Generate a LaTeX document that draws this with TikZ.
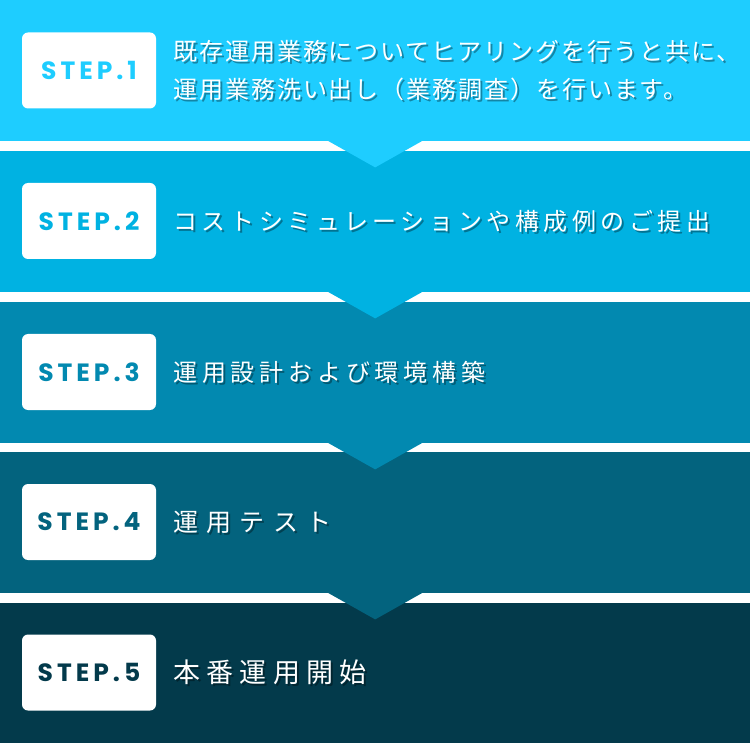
\documentclass[tikz,border=0pt]{standalone}
\usepackage{fontspec}
\usetikzlibrary{positioning}
\newfontfamily\jpfont{Noto Sans CJK JP}
\newfontfamily\stepfont{Poppins}
\definecolor{stepA}{HTML}{1ECDFF}
\definecolor{stepB}{HTML}{00B2E2}
\definecolor{stepC}{HTML}{0289B0}
\definecolor{stepD}{HTML}{03637E}
\definecolor{stepE}{HTML}{033A4B}
\tikzset{
  band/.style={fill=#1, minimum width=750pt, minimum height=141pt, inner sep=0pt, anchor=north west},
  stepbox/.style={fill=white, rounded corners=6pt, minimum width=134pt, minimum height=76pt, inner sep=0pt, text=#1,
    font=\stepfont\bfseries\fontsize{25}{25}\selectfont\addfontfeatures{LetterSpace=16}},
  desc/.style={text=white, inner sep=0pt, align=left},
  descshadow/.style={text=black, text opacity=0.35, inner sep=0pt, align=left},
}
\begin{document}
\begin{tikzpicture}[x=1pt,y=-1pt]
        \useasboundingbox (0,0) rectangle (750,743);
        \node[band=stepA] (b1) at (0,0) {};
        \node[band=stepB] (b2) at (0,151) {};
        \node[band=stepC] (b3) at (0,302) {};
        \node[band=stepD] (b4) at (0,452) {};
        \node[band=stepE] (b5) at (0,603) {};
        %
        \fill[stepA] ([shift={(-48pt,1pt)}]b1.south) -- ([shift={(48pt,1pt)}]b1.south) -- ([yshift=-26pt]b1.south) -- cycle;
        \fill[stepB] ([shift={(-48pt,1pt)}]b2.south) -- ([shift={(48pt,1pt)}]b2.south) -- ([yshift=-26pt]b2.south) -- cycle;
        \fill[stepC] ([shift={(-48pt,1pt)}]b3.south) -- ([shift={(48pt,1pt)}]b3.south) -- ([yshift=-26pt]b3.south) -- cycle;
        \fill[stepD] ([shift={(-48pt,1pt)}]b4.south) -- ([shift={(48pt,1pt)}]b4.south) -- ([yshift=-26pt]b4.south) -- cycle;
        %
        \node[stepbox=stepA] (s1) at (89,70.5) {STEP.1};
        \node[descshadow, right=19pt of s1, yshift=-2pt, font=\jpfont\fontsize{24}{38}\selectfont\addfontfeatures{LetterSpace=8}] (t1s) {既存運用業務についてヒアリングを行うと共に、\\運用業務洗い出し（業務調査）を行います。};
        \node[desc, right=17pt of s1, font=\jpfont\fontsize{24}{38}\selectfont\addfontfeatures{LetterSpace=8}] (t1) {既存運用業務についてヒアリングを行うと共に、\\運用業務洗い出し（業務調査）を行います。};
        %
        \node[stepbox=stepB] (s2) at (89,221) {STEP.2};
        \node[descshadow, right=19pt of s2, yshift=-2pt, font=\jpfont\fontsize{24}{24}\selectfont\addfontfeatures{LetterSpace=19}] (t2s) {コストシミュレーションや構成例のご提出};
        \node[desc, right=17pt of s2, font=\jpfont\fontsize{24}{24}\selectfont\addfontfeatures{LetterSpace=19}] (t2) {コストシミュレーションや構成例のご提出};
        %
        \node[stepbox=stepC] (s3) at (89,372) {STEP.3};
        \node[descshadow, right=19pt of s3, yshift=-2pt, font=\jpfont\fontsize{24}{24}\selectfont\addfontfeatures{LetterSpace=20}] (t3s) {運用設計および環境構築};
        \node[desc, right=17pt of s3, font=\jpfont\fontsize{24}{24}\selectfont\addfontfeatures{LetterSpace=20}] (t3) {運用設計および環境構築};
        %
        \node[stepbox=stepD] (s4) at (89,522) {STEP.4};
        \node[descshadow, right=19pt of s4, yshift=-2pt, font=\jpfont\fontsize{25}{25}\selectfont\addfontfeatures{LetterSpace=33}] (t4s) {運用テスト};
        \node[desc, right=17pt of s4, font=\jpfont\fontsize{25}{25}\selectfont\addfontfeatures{LetterSpace=33}] (t4) {運用テスト};
        %
        \node[stepbox=stepE] (s5) at (89,672.5) {STEP.5};
        \node[descshadow, right=19pt of s5, yshift=-2pt, font=\jpfont\fontsize{27}{27}\selectfont\addfontfeatures{LetterSpace=23}] (t5s) {本番運用開始};
        \node[desc, right=17pt of s5, font=\jpfont\fontsize{27}{27}\selectfont\addfontfeatures{LetterSpace=23}] (t5) {本番運用開始};
\end{tikzpicture}
\end{document}
